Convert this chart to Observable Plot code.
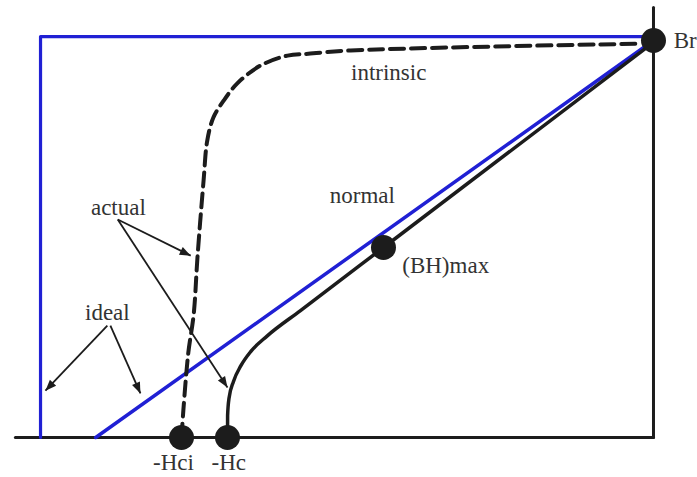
<!DOCTYPE html>
<html>
<head>
<meta charset="utf-8">
<script src="https://cdn.jsdelivr.net/npm/d3@7"></script>
<script src="https://cdn.jsdelivr.net/npm/@observablehq/plot@0.6"></script>
<style>
  html, body { margin: 0; padding: 0; background: #fff; }
  #chart svg { display: block; }
</style>
</head>
<body>
<div id="chart"></div>
<script>
// Normalized demagnetization diagram: H (x, negative to 0), B (y, 0 to Br = 1)
const normalH = [-0.6949, -0.6948, -0.6925, -0.6852, -0.6731, -0.6568, -0.6305, -0.5759, -0.4405, -0.0049];
const normalB = [0.0000, 0.0549, 0.0987, 0.1411, 0.1809, 0.2169, 0.2554, 0.3196, 0.4786, 0.9899];

const intrinsicH = [-0.770, -0.767, -0.759, -0.750, -0.744, -0.734, -0.728, -0.718, -0.701, -0.679, -0.641, -0.597, -0.560, -0.494, -0.021];
const intrinsicB = [0.000, 0.068, 0.212, 0.312, 0.453, 0.647, 0.748, 0.806, 0.849, 0.892, 0.937, 0.962, 0.967, 0.975, 0.992];

const idealRectH = [-1.0, -1.0, 0.0];
const idealRectB = [0.0, 1.010, 1.010];
const idealLineH = [-0.910, 0.0];
const idealLineB = [0.0, 1.0];

const axisVH = [0, 0];
const axisVB = [1.083, 0];
const axisHH = [0, -1.041];
const axisHB = [0, 0];

const pointNames = ["Br", "-Hci", "-Hc", "(BH)max"];
const pointH = [0.0, -0.770, -0.695, -0.4405];
const pointB = [1.0, 0.0, 0.0, 0.4786];

const labelText = ["intrinsic", "normal", "(BH)max", "actual", "ideal", "-Hci", "-Hc"];
const labelH = [-0.432, -0.475, -0.339, -0.873, -0.891, -0.783, -0.693];
const labelB = [0.919, 0.610, 0.433, 0.579, 0.315, -0.063, -0.063];

const arrowH1 = [-0.874, -0.874, -0.891, -0.886];
const arrowB1 = [0.549, 0.549, 0.282, 0.282];
const arrowH2 = [-0.755, -0.695, -0.992, -0.837];
const arrowB2 = [0.458, 0.126, 0.118, 0.111];

const zip = (xs, ys) => xs.map((x, i) => ({x, y: ys[i]}));
const normal = zip(normalH, normalB);
const intrinsic = zip(intrinsicH, intrinsicB);
const idealRect = zip(idealRectH, idealRectB);
const idealLine = zip(idealLineH, idealLineB);
const axisV = zip(axisVH, axisVB);
const axisH = zip(axisHH, axisHB);
const points = pointNames.map((n, i) => ({n, x: pointH[i], y: pointB[i]}));
const labels = labelText.map((t, i) => ({t, x: labelH[i], y: labelB[i]}));
const arrows = arrowH1.map((x1, i) => ({x1, y1: arrowB1[i], x2: arrowH2[i], y2: arrowB2[i]}));

const BLUE = "#2020d4";
const INK = "#1c1c1c";
const SERIF = "'Liberation Serif', 'DejaVu Serif', serif";

function filledHead(color, context) {
  const doc = context.document;
  const ns = "http://www.w3.org/2000/svg";
  const m = doc.createElementNS(ns, "marker");
  m.setAttribute("viewBox", "-12 -5 13 10");
  m.setAttribute("markerWidth", "13");
  m.setAttribute("markerHeight", "10");
  m.setAttribute("markerUnits", "userSpaceOnUse");
  m.setAttribute("orient", "auto");
  const p = doc.createElementNS(ns, "path");
  p.setAttribute("d", "M-11,-4.3L0,0L-11,4.3Z");
  p.setAttribute("fill", color);
  p.setAttribute("stroke", "none");
  m.appendChild(p);
  return m;
}

const chart = Plot.plot({
  width: 697,
  height: 477,
  margin: 0,
  x: {domain: [-1.0653, 0.0718], axis: null},
  y: {domain: [-0.1008, 1.1008], axis: null},
  style: {background: "#fff", fontFamily: SERIF},
  marks: [
    Plot.line(axisV, {x: "x", y: "y", stroke: INK, strokeWidth: 3}),
    Plot.line(axisH, {x: "x", y: "y", stroke: INK, strokeWidth: 3}),
    Plot.line(idealRect, {x: "x", y: "y", stroke: BLUE, strokeWidth: 3.2}),
    Plot.line(idealLine, {x: "x", y: "y", stroke: BLUE, strokeWidth: 3.5}),
    Plot.line(intrinsic, {x: "x", y: "y", stroke: INK, strokeWidth: 4, strokeDasharray: "14,7", curve: "catmull-rom"}),
    Plot.line(normal, {x: "x", y: "y", stroke: INK, strokeWidth: 3.5, curve: "monotone-x"}),
    Plot.link(arrows, {x1: "x1", y1: "y1", x2: "x2", y2: "y2", stroke: INK, strokeWidth: 1.8, markerEnd: filledHead}),
    Plot.dot(points, {x: "x", y: "y", r: 12.5, fill: INK, stroke: "none"}),
    Plot.text(labels, {x: "x", y: "y", text: "t", fontSize: 23, fontFamily: SERIF, fill: "#333", textAnchor: "middle", lineAnchor: "middle"}),
    Plot.text([{t: "Br", x: 0.033, y: 1.0}], {x: "x", y: "y", text: "t", fontSize: 23, fontFamily: SERIF, fill: "#333", textAnchor: "start", lineAnchor: "middle"})
  ]
});
document.getElementById("chart").appendChild(chart);
</script>
</body>
</html>
